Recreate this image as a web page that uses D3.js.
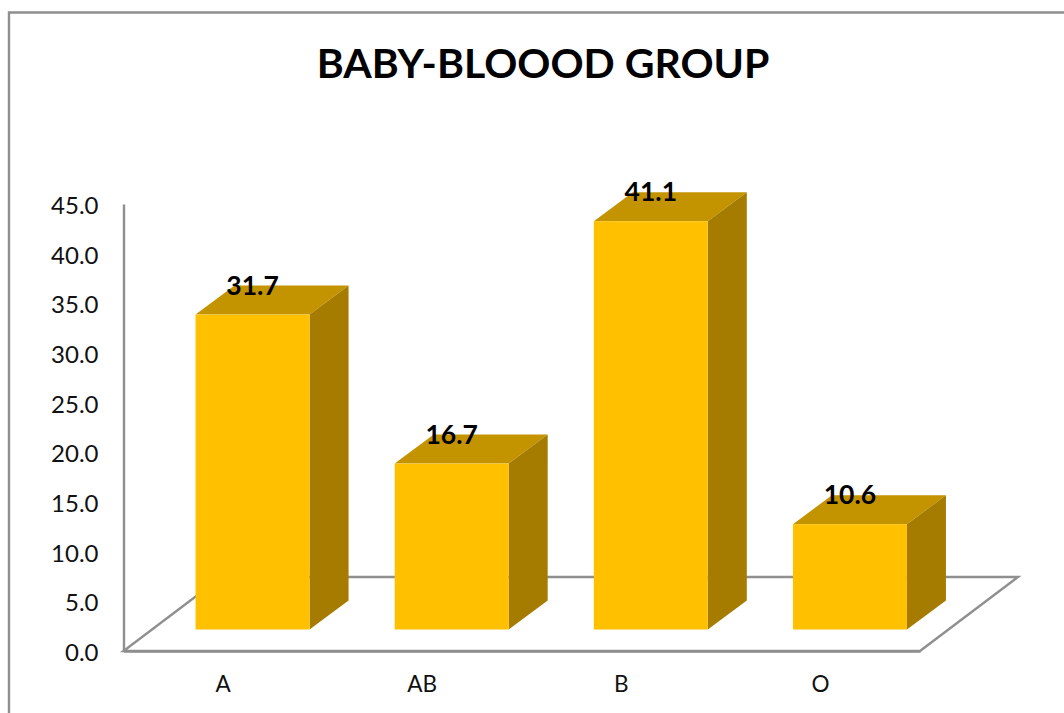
<!DOCTYPE html>
<html>
<head>
<meta charset="utf-8">
<script src="https://cdn.jsdelivr.net/npm/d3@7"></script>
<style>
  html, body { margin: 0; padding: 0; background: #fff; overflow: hidden; }
  svg, svg g { font-family: Lato, "Open Sans", sans-serif; }
  svg { display: block; }
</style>
</head>
<body>
<svg id="chart" width="1064" height="713"></svg>
<script>
// Blood group shares
const chartTitle = "BABY-BLOOOD GROUP";
const groups = ["A", "AB", "B", "O"];
const shares = [31.7, 16.7, 41.1, 10.6];
const yTicks = [0, 5, 10, 15, 20, 25, 30, 35, 40, 45];

const svg = d3.select("#chart");
const axisGrey = "#8f8f8f";
const lineWidth = 2.4;
const labelFont = 'Lato, "Open Sans", sans-serif';

// Plot extents
const x0 = 123.5, x1 = 920, yBase = 651, yTop = 204;
const y = d3.scaleLinear().domain([0, 45]).range([yBase, yTop]);
const x = d3.scaleBand().domain(groups).range([x0, x1]);

// Oblique projection: floor depth and bar depth
const floorDX = 98, floorDY = -74;
const barDX = 39, barDY = -29;
const barWidth = 114;
const barShiftX = 29.5, barLift = 21.5;

// Outer frame, open at the bottom and right where the page ends
svg.append("path")
  .attr("d", "M9,713V12.5H1064")
  .attr("fill", "none")
  .attr("stroke", axisGrey)
  .attr("stroke-width", lineWidth);

// Floor parallelogram
svg.append("path")
  .attr("d", d3.line()([
    [x0, yBase], [x1, yBase], [x1 + floorDX, yBase + floorDY], [x0 + floorDX, yBase + floorDY]
  ]) + "Z")
  .attr("fill", "#fff")
  .attr("stroke", axisGrey)
  .attr("stroke-width", lineWidth);

// Value axis
const yAxis = svg.append("g")
  .attr("transform", `translate(${x0},0)`)
  .call(d3.axisLeft(y).tickValues(yTicks).tickFormat(d3.format(".1f")).tickSize(0).tickPadding(25));
yAxis.attr("font-family", labelFont);
yAxis.select(".domain").attr("stroke", axisGrey).attr("stroke-width", lineWidth);
yAxis.selectAll("text").attr("font-size", 24).attr("fill", "#111").attr("dy", "0.4em");

// Category axis
const xAxis = svg.append("g")
  .attr("transform", `translate(0,${yBase})`)
  .call(d3.axisBottom(x).tickSize(0).tickPadding(25));
xAxis.attr("font-family", labelFont);
xAxis.select(".domain").attr("stroke", axisGrey).attr("stroke-width", lineWidth);
xAxis.selectAll("text").attr("font-size", 22.5).attr("fill", "#111");

// Bars: top and side faces, then the front face
const rows = groups.map((g, i) => ({ group: g, value: shares[i] }));
const bars = svg.append("g").selectAll("g").data(rows).join("g");

const barLeft = d => x(d.group) + x.bandwidth() / 2 + barShiftX - barWidth / 2;
const barTop = d => y(d.value) - barLift;
const barBottom = () => y(0) - barLift;

bars.append("path")
  .attr("fill", "#c49300")
  .attr("d", d => d3.line()([
    [barLeft(d), barTop(d)],
    [barLeft(d) + barWidth, barTop(d)],
    [barLeft(d) + barWidth + barDX, barTop(d) + barDY],
    [barLeft(d) + barDX, barTop(d) + barDY]
  ]) + "Z");

bars.append("path")
  .attr("fill", "#a67c00")
  .attr("d", d => d3.line()([
    [barLeft(d) + barWidth, barTop(d)],
    [barLeft(d) + barWidth + barDX, barTop(d) + barDY],
    [barLeft(d) + barWidth + barDX, barBottom() + barDY],
    [barLeft(d) + barWidth, barBottom()]
  ]) + "Z");

bars.append("rect")
  .attr("fill", "#ffc000")
  .attr("x", barLeft)
  .attr("y", barTop)
  .attr("width", barWidth)
  .attr("height", d => barBottom() - barTop(d));

// Value labels sit across the top face
bars.append("text")
  .attr("x", d => barLeft(d) + barWidth / 2)
  .attr("y", d => barTop(d) - 20)
  .attr("text-anchor", "middle")
  .attr("font-size", 26.5)
  .attr("font-weight", 700)
  .attr("fill", "#000")
  .text(d => d.value.toFixed(1));

// Title
svg.append("text")
  .attr("x", 543)
  .attr("y", 78)
  .attr("text-anchor", "middle")
  .attr("font-size", 41)
  .attr("font-weight", 700)
  .attr("fill", "#000")
  .text(chartTitle);
</script>
</body>
</html>
